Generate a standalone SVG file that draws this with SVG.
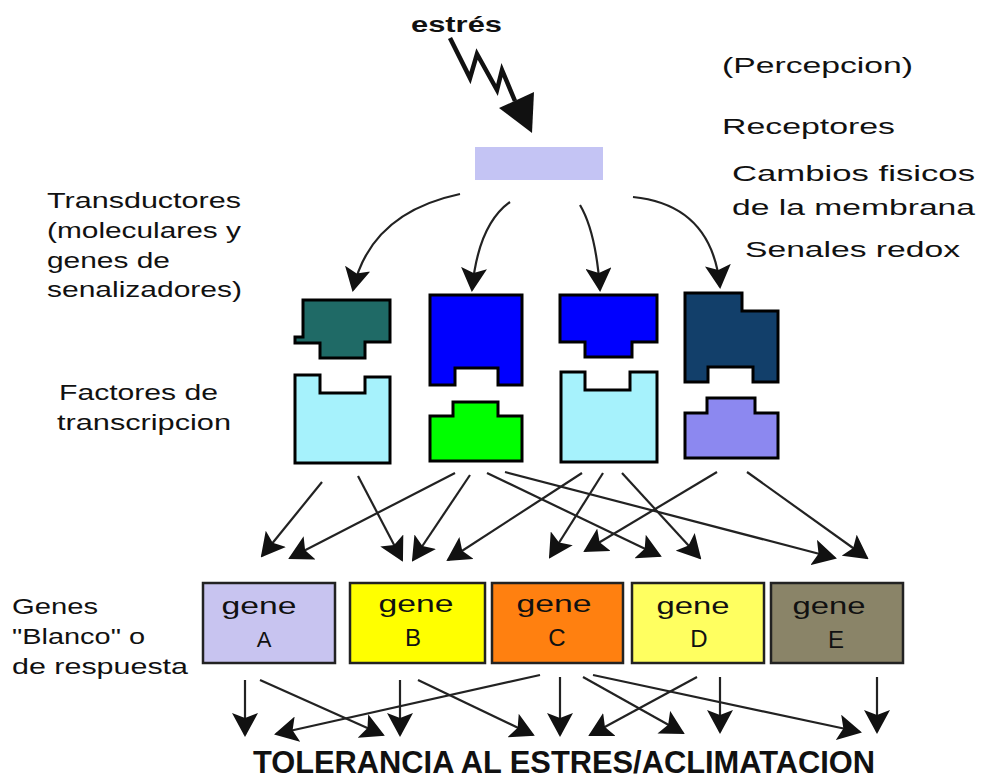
<svg xmlns="http://www.w3.org/2000/svg" width="982" height="780" viewBox="0 0 982 780">
  <defs>
    <style>
      .lbl { font-family: "Liberation Sans", Arial, sans-serif; font-size: 22px; fill: #111; }
      .bold { font-family: "Liberation Sans", Arial, sans-serif; font-weight: bold; fill: #111; }
      .gtxt { font-family: "Liberation Sans", Arial, sans-serif; fill: #111; text-anchor: middle; }
      .blk { stroke: #000; stroke-width: 3; stroke-linejoin: miter; }
      .box { stroke: #222; stroke-width: 2.5; }
      .wire { fill: none; stroke: #222; stroke-width: 2.2; marker-end: url(#head); }
      .bolt { fill: none; stroke: #111; stroke-width: 4.5; stroke-linejoin: miter; }
    </style>
    <marker id="head" viewBox="0 0 24 26" refX="22" refY="13" markerWidth="24" markerHeight="26" markerUnits="userSpaceOnUse" orient="auto">
      <path d="M0,0 L24,13 L0,26 L5,13 z" fill="#111"/>
    </marker>
  </defs>

  <rect width="982" height="780" fill="#fff"/>

  <!-- stimulus -->
  <g id="stress">
    <text class="bold" x="411" y="32" font-size="22" textLength="91" lengthAdjust="spacingAndGlyphs">estrés</text>
    <polyline class="bolt" points="450,38 470,78 477,54 497,90 502,70 515,101"/>
    <polygon points="499,108 534,92 532,133" fill="#111"/>
  </g>

  <!-- right-hand labels -->
  <g id="labels-right">
    <text class="lbl" x="722" y="73" textLength="191" lengthAdjust="spacingAndGlyphs">(Percepcion)</text>
    <text class="lbl" x="722" y="134" textLength="173" lengthAdjust="spacingAndGlyphs">Receptores</text>
    <text class="lbl" x="732" y="181" textLength="243" lengthAdjust="spacingAndGlyphs">Cambios fisicos</text>
    <text class="lbl" x="732" y="215" textLength="243" lengthAdjust="spacingAndGlyphs">de la membrana</text>
    <text class="lbl" x="745" y="257" textLength="215" lengthAdjust="spacingAndGlyphs">Senales redox</text>
  </g>

  <!-- left-hand labels -->
  <g id="labels-left">
    <text class="lbl" x="47" y="208" textLength="194" lengthAdjust="spacingAndGlyphs">Transductores</text>
    <text class="lbl" x="47" y="238" textLength="194" lengthAdjust="spacingAndGlyphs">(moleculares y</text>
    <text class="lbl" x="47" y="268" textLength="123" lengthAdjust="spacingAndGlyphs">genes de</text>
    <text class="lbl" x="47" y="297" textLength="195" lengthAdjust="spacingAndGlyphs">senalizadores)</text>
    <text class="lbl" x="59" y="400" textLength="159" lengthAdjust="spacingAndGlyphs">Factores de</text>
    <text class="lbl" x="57" y="430" textLength="174" lengthAdjust="spacingAndGlyphs">transcripcion</text>
    <text class="lbl" x="12" y="614" textLength="86" lengthAdjust="spacingAndGlyphs">Genes</text>
    <text class="lbl" x="12" y="644" textLength="133" lengthAdjust="spacingAndGlyphs">"Blanco" o</text>
    <text class="lbl" x="12" y="674" textLength="176" lengthAdjust="spacingAndGlyphs">de respuesta</text>
  </g>

  <!-- receptor band -->
  <g id="receptor">
    <rect x="475" y="147" width="128" height="33" fill="#c4c4f4"/>
  </g>

  <!-- transducers -->
  <g id="transducer-1">
    <polygon class="blk" fill="#1f6a66" points="295,337 303,337 303,300 390,300 390,342 365,342 365,358 320,358 320,343 295,343"/>
  </g>
  <g id="transducer-2">
    <polygon class="blk" fill="#0000ff" points="430,295 522,295 522,385 498,385 498,368 455,368 455,385 430,385"/>
  </g>
  <g id="transducer-3">
    <polygon class="blk" fill="#0000ff" points="560,295 657,295 657,342 632,342 632,357 585,357 585,342 560,342"/>
  </g>
  <g id="transducer-4">
    <polygon class="blk" fill="#123f6a" points="685,293 742,293 742,311 778,311 778,382 753,382 753,367 708,367 708,382 685,382"/>
  </g>

  <!-- transcription factors -->
  <g id="factor-1">
    <polygon class="blk" fill="#a6f2fc" points="295,375 320,375 320,393 365,393 365,377 390,377 390,463 295,463"/>
  </g>
  <g id="factor-2">
    <polygon class="blk" fill="#00ff00" points="430,416 453,416 453,402 498,402 498,416 522,416 522,461 430,461"/>
  </g>
  <g id="factor-3">
    <polygon class="blk" fill="#a6f2fc" points="561,372 585,372 585,390 630,390 630,372 657,372 657,462 561,462"/>
  </g>
  <g id="factor-4">
    <polygon class="blk" fill="#8c88f0" points="685,413 707,413 707,398 755,398 755,413 778,413 778,458 685,458"/>
  </g>

  <!-- target genes -->
  <g id="gene-a">
    <rect class="box" x="203" y="583" width="132" height="80" fill="#c8c4f0"/>
    <text class="gtxt" x="259" y="614" font-size="23" textLength="75" lengthAdjust="spacingAndGlyphs">gene</text>
    <text class="gtxt" x="264" y="647" font-size="22">A</text>
  </g>
  <g id="gene-b">
    <rect class="box" x="350" y="583" width="135" height="80" fill="#ffff00"/>
    <text class="gtxt" x="416" y="612" font-size="23" textLength="75" lengthAdjust="spacingAndGlyphs">gene</text>
    <text class="gtxt" x="413" y="646" font-size="24">B</text>
  </g>
  <g id="gene-c">
    <rect class="box" x="492" y="583" width="131" height="80" fill="#ff8010"/>
    <text class="gtxt" x="554" y="612" font-size="23" textLength="75" lengthAdjust="spacingAndGlyphs">gene</text>
    <text class="gtxt" x="557" y="646" font-size="24">C</text>
  </g>
  <g id="gene-d">
    <rect class="box" x="632" y="583" width="132" height="80" fill="#ffff60"/>
    <text class="gtxt" x="693" y="614" font-size="23" textLength="73" lengthAdjust="spacingAndGlyphs">gene</text>
    <text class="gtxt" x="699" y="647" font-size="24">D</text>
  </g>
  <g id="gene-e">
    <rect class="box" x="771" y="583" width="132" height="80" fill="#8a8468"/>
    <text class="gtxt" x="829" y="614" font-size="23" textLength="73" lengthAdjust="spacingAndGlyphs">gene</text>
    <text class="gtxt" x="836" y="648" font-size="24">E</text>
  </g>

  <!-- connectors -->
  <g id="connectors">
    <!-- receptor to transducers -->
    <path class="wire" d="M460,194 Q370,213 353,290"/>
    <path class="wire" d="M510,202 Q478,225 472,290"/>
    <path class="wire" d="M580,205 Q596,232 600,290"/>
    <path class="wire" d="M633,197 Q712,205 720,287"/>
    <!-- transcription factors to genes -->
    <path class="wire" d="M322,482 L262,556"/>
    <path class="wire" d="M358,476 L402,560"/>
    <path class="wire" d="M455,473 L290,558"/>
    <path class="wire" d="M470,475 L413,560"/>
    <path class="wire" d="M487,473 L660,556"/>
    <path class="wire" d="M505,472 L835,558"/>
    <path class="wire" d="M582,473 L448,560"/>
    <path class="wire" d="M603,473 L550,557"/>
    <path class="wire" d="M622,473 L700,558"/>
    <path class="wire" d="M717,472 L585,551"/>
    <path class="wire" d="M747,472 L867,558"/>
    <!-- genes to tolerance -->
    <path class="wire" d="M245,680 L245,735"/>
    <path class="wire" d="M260,680 L383,735"/>
    <path class="wire" d="M540,675 L276,734"/>
    <path class="wire" d="M400,680 L400,735"/>
    <path class="wire" d="M418,680 L533,735"/>
    <path class="wire" d="M560,677 L560,735"/>
    <path class="wire" d="M583,677 L683,733"/>
    <path class="wire" d="M697,677 L590,735"/>
    <path class="wire" d="M593,675 L860,732"/>
    <path class="wire" d="M720,677 L720,732"/>
    <path class="wire" d="M877,677 L877,732"/>
  </g>

  <g id="outcome">
    <text class="bold" x="253" y="773" font-size="31" textLength="622" lengthAdjust="spacingAndGlyphs">TOLERANCIA AL ESTRES/ACLIMATACION</text>
  </g>
</svg>
